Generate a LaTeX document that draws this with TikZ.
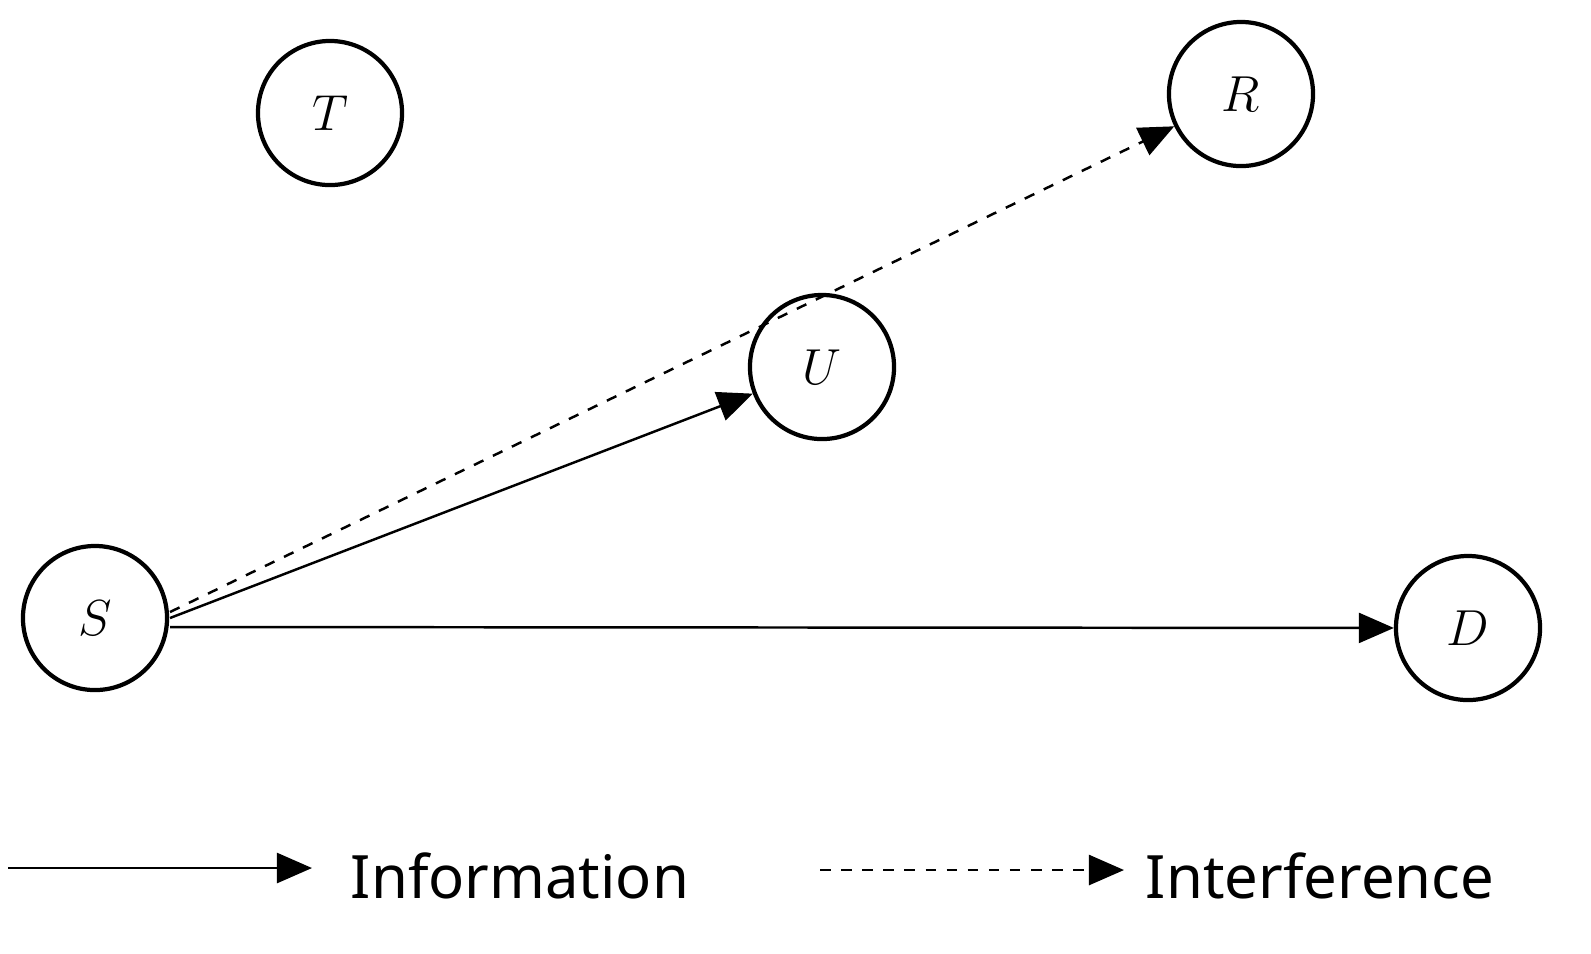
\documentclass[tikz,border=0pt]{standalone}
\usepackage{fontspec}
\newfontfamily\legfont{Noto Sans}
\usetikzlibrary{arrows.meta}
\begin{document}
\begin{tikzpicture}[x=0.01cm,y=-0.01cm,
  nd/.style={circle,draw,line width=1.2pt,minimum size=1.44cm,inner sep=0pt,font=\fontsize{15}{15}\selectfont\itshape},
  ar/.style={line width=0.7pt,-{Triangle[length=0.35cm,width=0.3cm]}},
  lg/.style={font=\legfont\fontsize{17}{17}\selectfont}]
\useasboundingbox (0,0) rectangle (1591,953);
\node[nd] (T) at (330,113) {$T$};
\node[nd] (R) at (1241,94) {$R$};
\node[nd] (U) at (822,367) {$U$};
\node[nd] (S) at (95,618) {$S$};
\node[nd] (D) at (1468,628) {$D$};
\coordinate (s1) at (170,612);
\coordinate (s2) at (170,618);
\coordinate (s3) at (170,627);
\draw[ar,dashed] (s1) -- (R);
\draw[ar] (s2) -- (U);
\draw[ar] (s3) -- (D);
\coordinate (a1) at (8,868); \coordinate (a2) at (312,868);
\coordinate (b1) at (820,870); \coordinate (b2) at (1124,870);
\draw[ar] (a1) -- (a2);
\draw[ar,dashed] (b1) -- (b2);
\node[lg] (li) at (520,876) {Information};
\node[lg] (lf) at (1320,876) {Interference};
\end{tikzpicture}
\end{document}
